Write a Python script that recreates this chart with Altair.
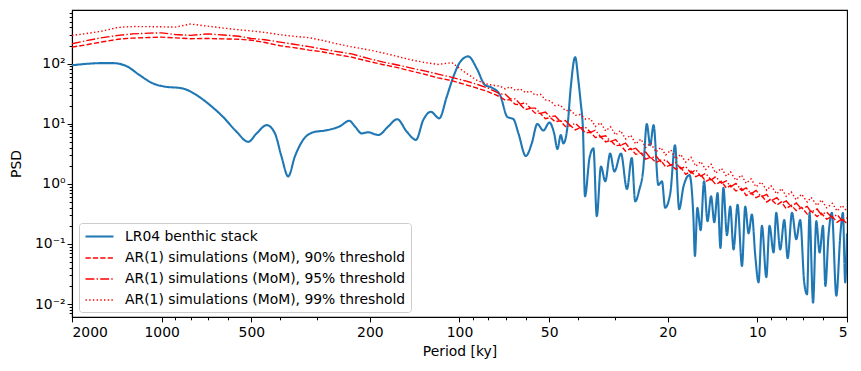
import altair as alt
import pandas as pd

# ---- LR04 benthic stack spectrum (period in ky, PSD) ----
blue_period = [2000, 1573, 1457, 1313, 1184, 1071, 991, 849, 764, 689, 623, 561, 512, 480, 444, 417, 396, 376, 357, 335,
               310, 279, 252, 234.5, 224.4, 213, 202.5, 187.4, 173.5, 161.8, 150.4, 140, 132.3, 124.9, 116.9, 110.4, 104.9,
               99.6, 93.4, 87.5, 82.1, 77.9, 73.1, 69.1, 65.9, 63.4, 59.9, 57.2, 54.8, 52.3, 49.9, 48.1, 46.9, 45.7, 44.8,
               43.4, 42.3, 40.9, 39.9, 39.2, 38.5, 37.9, 36.6, 35.5, 34.6, 33.5, 32.4, 31.2, 30.2, 28.7, 27.4, 26.4, 25.7,
               24.9, 24.2, 23.5, 22.9, 22.3, 21.5, 20.9, 20.4, 19.6, 18.9, 18.3, 17.7, 16.9, 16.4, 16.2, 15.9, 15.5, 15.1,
               14.7, 14.3, 13.95, 13.6, 13.3, 13.0, 12.65, 12.33, 12.02, 11.65, 11.26, 10.98, 10.70, 10.43, 10.16, 9.91,
               9.65, 9.33, 9.10, 8.82, 8.64, 8.38, 8.12, 7.91, 7.65, 7.40, 7.18, 6.96, 6.81, 6.68, 6.50, 6.34, 6.18, 6.02,
               5.91, 5.77, 5.62, 5.43, 5.26, 5.16, 5.07, 5.0]
blue_psd = [94, 102, 102, 91, 64, 47, 42, 38.6, 30, 20.5, 13.1, 7.4, 5.0, 6.9, 9.5, 7.0, 2.86, 1.33, 2.86, 5.4,
            7.2, 7.8, 9.1, 11.2, 9.0, 6.9, 7.2, 6.5, 9.0, 11.9, 7.4, 5.4, 11.6, 15.8, 12.3, 28, 60,
            106, 132, 83, 44, 40, 30, 13, 11.9, 6.9, 2.9, 4.7, 9.9, 7.7, 10.5, 6.9, 3.8, 6.5, 4.7,
            9, 41, 129, 53, 23, 7.9, 0.62, 2.7, 3.9, 0.29, 1.94, 1.1, 3.2, 1.6, 3.2, 0.82, 2.7, 0.51,
            0.8, 1.6, 9.9, 4.4, 9.5, 0.96, 1.1, 0.4, 0.7, 4.4, 0.38, 0.9, 1.4, 0.29, 0.063, 0.40, 0.17, 1.1,
            0.24, 0.62, 0.23, 0.7, 0.086, 0.86, 0.14, 0.42, 0.081, 0.45, 0.043, 0.42, 0.15, 0.31, 0.063, 0.023,
            0.2, 0.028, 0.2, 0.072, 0.33, 0.081, 0.25, 0.058, 0.33, 0.12, 0.25, 0.023, 0.0145, 0.33, 0.0106, 0.24,
            0.072, 0.2, 0.02, 0.137, 0.33, 0.0138, 0.15, 0.33, 0.023, 0.15]

# ---- AR(1) significance thresholds (shared period grid) ----
red_period = [2000, 1800, 1600, 1400, 1250, 1100, 1000, 900, 800, 700,
              620, 550, 500, 450, 400, 360, 320, 290, 260, 230,
              200, 180, 160, 145, 130, 118, 106, 96, 87, 80,
              73, 70.2, 67.6, 65.0, 62.5, 60.1, 57.9, 55.7, 53.5, 51.5,
              49.6, 47.7, 45.9, 44.1, 42.4, 40.8, 39.3, 37.8, 36.3, 35.0,
              33.6, 32.3, 31.1, 29.9, 28.8, 27.7, 26.6, 25.6, 24.6, 23.7,
              22.8, 21.9, 21.1, 20.3, 19.5, 18.8, 18.1, 17.4, 16.7, 16.1,
              15.5, 14.9, 14.3, 13.8, 13.2, 12.7, 12.3, 11.8, 11.3, 10.9,
              10.5, 10.1, 9.7, 9.3, 9.0, 8.6, 8.3, 8.0, 7.7, 7.4,
              7.1, 6.8, 6.6, 6.3, 6.1, 5.85, 5.6, 5.4, 5.2, 5.0]
red_90 = [188, 205, 228, 255, 266, 272, 276, 268, 260, 262,
          258, 255, 245, 225, 198, 185, 168, 158, 142, 128,
          108, 96, 85, 75, 66, 58, 52, 45, 39, 34,
          28, 24.7, 25.2, 21.1, 20.8, 17.2, 18.0, 15.0, 14.9, 12.1,
          12.7, 10.8, 11.2, 9.0, 9.3, 7.9, 8.6, 7.1, 7.2, 5.9,
          6.1, 5.0, 5.3, 4.3, 4.4, 3.5, 3.9, 3.1, 3.26, 2.58,
          2.76, 2.26, 2.48, 1.91, 2.07, 1.76, 1.89, 1.44, 1.62, 1.32,
          1.43, 1.10, 1.21, 0.98, 1.10, 0.85, 0.94, 0.76, 0.84, 0.64,
          0.71, 0.59, 0.65, 0.50, 0.556, 0.446, 0.50, 0.387, 0.443, 0.359,
          0.407, 0.314, 0.353, 0.285, 0.325, 0.258, 0.286, 0.23, 0.262, 0.219]
red_95 = [214, 240, 268, 295, 312, 322, 325, 305, 295, 312,
          300, 285, 262, 250, 228, 210, 192, 175, 160, 145,
          120, 106, 94, 84, 75, 67, 59, 52, 45, 39,
          31.2, 31.1, 26.0, 25.9, 21.2, 22.4, 18.3, 18.2, 14.8, 15.7,
          13.0, 13.5, 10.9, 11.3, 9.3, 10.2, 8.5, 8.8, 7.2, 7.8,
          6.1, 6.3, 5.06, 5.46, 4.37, 4.76, 3.71, 3.92, 3.18, 3.39,
          2.65, 2.93, 2.34, 2.52, 2.03, 2.28, 1.79, 1.94, 1.51, 1.72,
          1.34, 1.49, 1.16, 1.32, 1.03, 1.12, 0.89, 1.02, 0.78, 0.86,
          0.68, 0.78, 0.61, 0.67, 0.52, 0.59, 0.474, 0.52, 0.418, 0.48,
          0.381, 0.421, 0.337, 0.382, 0.307, 0.339, 0.273, 0.308, 0.247, 0.271]
red_99 = [294, 315, 345, 400, 414, 412, 410, 405, 455, 420,
          390, 365, 350, 330, 302, 285, 270, 245, 215, 190,
          168, 150, 130, 115, 104, 97, 104, 72, 52, 45,
          42, 38, 41, 36, 38, 33, 35, 30, 31, 25,
          24, 20, 20.5, 16.5, 16.8, 13.8, 14.2, 12.0, 12.1, 9.0,
          10.4, 7.6, 8.9, 6.5, 7.7, 5.6, 6.45, 4.6, 5.56, 4.03,
          4.78, 3.38, 4.03, 3.02, 3.66, 2.58, 3.11, 2.3, 2.76, 1.97,
          2.35, 1.74, 2.12, 1.51, 1.82, 1.34, 1.58, 1.14, 1.4, 1.02,
          1.21, 0.89, 1.07, 0.78, 0.93, 0.68, 0.84, 0.62, 0.735, 0.543,
          0.675, 0.497, 0.597, 0.436, 0.543, 0.399, 0.475, 0.352, 0.438, 0.35]

series_names = ["LR04 benthic stack",
                "AR(1) simulations (MoM), 90% threshold",
                "AR(1) simulations (MoM), 95% threshold",
                "AR(1) simulations (MoM), 99% threshold"]

x_major = [2000, 1000, 500, 200, 100, 50, 20, 10, 5]
x_minor = [900, 800, 700, 600, 400, 300, 90, 80, 70, 60, 40, 30, 9, 8, 7, 6]
y_major = [0.01, 0.1, 1, 10, 100]
y_minor = [0.007, 0.008, 0.009, 0.02, 0.03, 0.04, 0.05, 0.06, 0.07, 0.08, 0.09,
           0.2, 0.3, 0.4, 0.5, 0.6, 0.7, 0.8, 0.9, 2, 3, 4, 5, 6, 7, 8, 9,
           20, 30, 40, 50, 60, 70, 80, 90, 200, 300, 400, 500, 600, 700]

blue_df = pd.DataFrame({"period": blue_period, "psd": blue_psd, "series": series_names[0]})
red_frames = []
for name, vals in zip(series_names[1:], [red_90, red_95, red_99]):
    red_frames.append(pd.DataFrame({"period": red_period, "psd": vals, "series": name}))
red_df = pd.concat(red_frames, ignore_index=True)

FONT = "DejaVu Sans"
FS = 13.9

major_x_test = "indexof([2000,1000,500,200,100,50,20,10,5], datum.value) >= 0"
major_y_test = "datum.value==100||datum.value==10||datum.value==1||datum.value==0.1||datum.value==0.01"

x_enc = alt.X(
    "period:Q",
    scale=alt.Scale(type="log", domain=[5, 2000], reverse=True, nice=False, zero=False),
    axis=alt.Axis(
        values=x_major + x_minor,
        labelExpr=major_x_test + " ? format(datum.value, 'd') : ''",
        tickSize={"condition": {"test": major_x_test, "value": 4.9}, "value": 2.8},
        title="Period [ky]",
        labelPadding=4,
        titlePadding=5,
    ),
)
y_enc = alt.Y(
    "psd:Q",
    scale=alt.Scale(type="log", domain=[0.0061, 780], nice=False, zero=False),
    axis=alt.Axis(
        values=y_major + y_minor,
        labelExpr="datum.value==100?'10²':datum.value==10?'10¹':datum.value==1?'10⁰':datum.value==0.1?'10⁻¹':datum.value==0.01?'10⁻²':''",
        tickSize={"condition": {"test": major_y_test, "value": 4.9}, "value": 2.8},
        title="PSD",
        labelPadding=2,
        titlePadding=11,
    ),
)

legend = alt.Legend(
    title=None,
    orient="none",
    legendX=7,
    legendY=213,
    symbolType="M-2,0H2",
    symbolSize=196,
    symbolOffset=7,
    labelFont=FONT,
    labelFontSize=FS,
    labelColor="black",
    labelLimit=500,
    labelOffset=17,
    padding=5,
    rowPadding=6.0,
    strokeColor="#cccccc",
    fillColor="rgba(255,255,255,0.8)",
    cornerRadius=3,
)

color_enc = alt.Color("series:N", scale=alt.Scale(domain=series_names,
                      range=["#1f77b4", "#ff0000", "#ff0000", "#ff0000"]), legend=legend)
dash_enc = alt.StrokeDash("series:N", scale=alt.Scale(domain=series_names,
                          range=[[1, 0], [5.2, 2.2], [8.9, 2.2, 1.4, 2.2], [1.4, 2.3]]), legend=legend)
width_enc = alt.StrokeWidth("series:N", scale=alt.Scale(type="ordinal", domain=series_names,
                            range=[2.1, 1.4, 1.4, 1.4]), legend=legend)

blue = alt.Chart(blue_df).mark_line(clip=True, interpolate="monotone").encode(
    x=x_enc, y=y_enc, color=color_enc, strokeDash=dash_enc, strokeWidth=width_enc,
    order=alt.Order("period:Q", sort="descending"),
)
red = alt.Chart(red_df).mark_line(clip=True).encode(
    x=x_enc, y=y_enc, color=color_enc, strokeDash=dash_enc, strokeWidth=width_enc,
    order=alt.Order("period:Q", sort="descending"),
)

chart = alt.layer(blue, red).properties(
    width=775, height=307,
    padding={"left": 64, "top": 2, "right": 6, "bottom": 48},
    autosize=alt.AutoSizeParams(type="none"),
).configure_view(
    stroke="black", strokeWidth=1.1
).configure_axis(
    grid=False,
    domainColor="black", domainWidth=1.1,
    tickColor="black", tickWidth=1.0,
    labelFont=FONT, labelFontSize=FS, labelColor="black",
    titleFont=FONT, titleFontSize=FS, titleColor="black", titleFontWeight="normal",
)

chart.save("out.html", embed_options={"renderer": "svg", "actions": False})
